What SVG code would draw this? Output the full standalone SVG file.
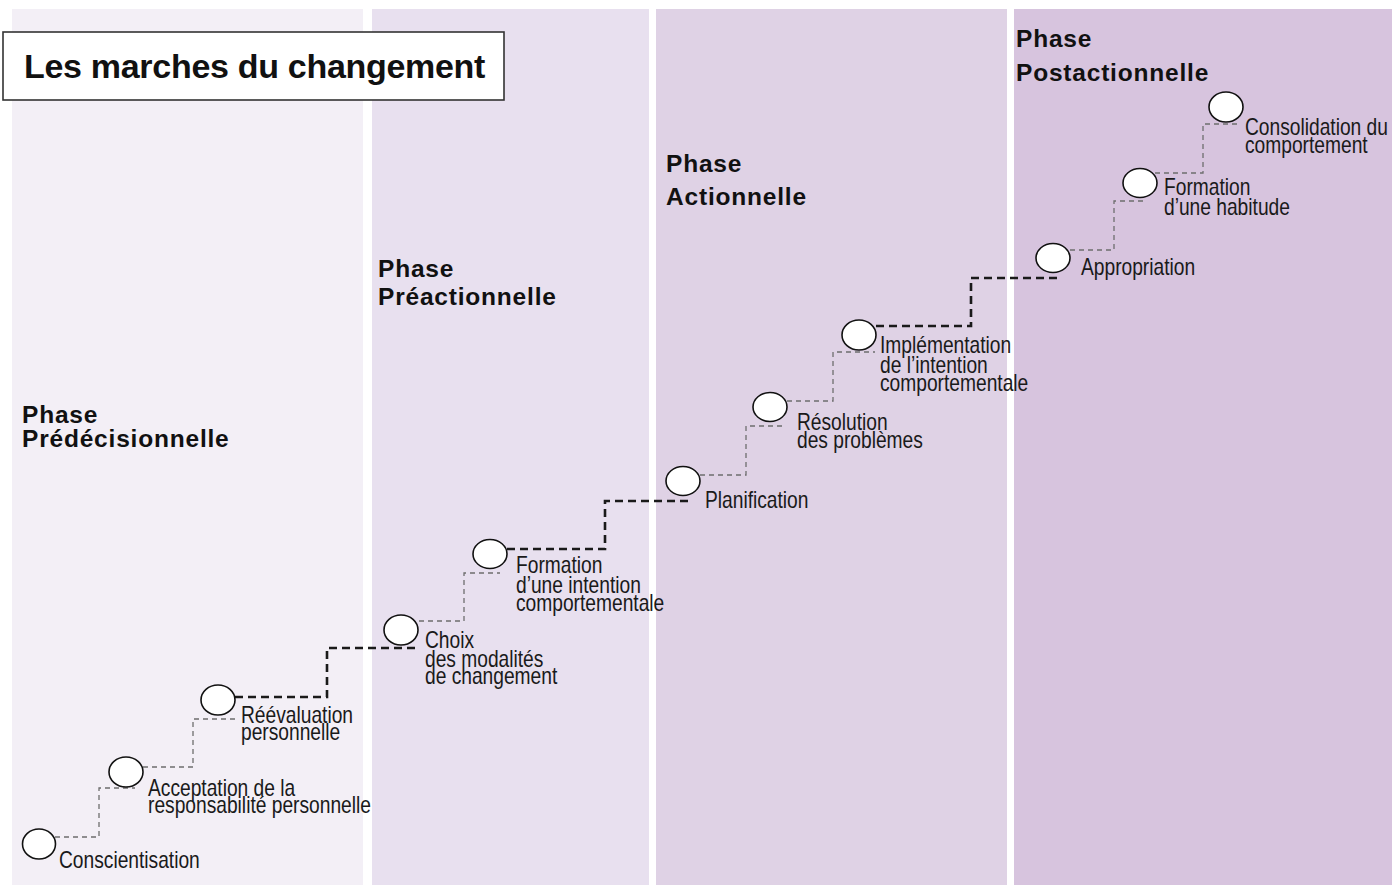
<svg xmlns="http://www.w3.org/2000/svg" width="1392" height="885" viewBox="0 0 1392 885">
<style>
.ph{font-family:"Liberation Sans",Arial,sans-serif;font-weight:bold;font-size:24.5px;letter-spacing:0.8px;fill:#111}
.lbl{font-family:"Liberation Sans",Arial,sans-serif;font-size:24px;fill:#1a1a1a}
.node ellipse{fill:#fff;stroke:#111;stroke-width:1.6}
.thin{fill:none;stroke:#6e6e6e;stroke-width:1.3;stroke-dasharray:5 4}
.thick{fill:none;stroke:#1a1a1a;stroke-width:2.6;stroke-dasharray:8 5}
</style>
<rect width="1392" height="885" fill="#ffffff"/>
<g id="panels">
<rect x="12" y="9" width="351" height="876" fill="#f3eff6"/>
<rect x="372" y="9" width="277" height="876" fill="#e8e0ef"/>
<rect x="656" y="9" width="351" height="876" fill="#dfd2e5"/>
<rect x="1014" y="9" width="378" height="876" fill="#d7c4de"/>
</g>
<g id="title">
<rect x="3" y="32" width="501" height="68" fill="#fff" stroke="#333" stroke-width="1.6"/>
<text x="24" y="78" font-family="Liberation Sans, Arial, sans-serif" font-weight="bold" font-size="34" letter-spacing="-0.3" fill="#111">Les marches du changement</text>
</g>
<g id="phases">
<text class="ph" x="22" y="423">Phase<tspan x="22" y="447">Prédécisionnelle</tspan></text>
<text class="ph" x="378" y="277">Phase<tspan x="378" y="305">Préactionnelle</tspan></text>
<text class="ph" x="666" y="172">Phase<tspan x="666" y="205">Actionnelle</tspan></text>
<text class="ph" x="1016" y="47">Phase<tspan x="1016" y="81">Postactionnelle</tspan></text>
</g>
<g id="connectors">
<path class="thin" d="M55,837 H99 V788 H135"/>
<path class="thin" d="M143,767 H193 V719 H237"/>
<path class="thick" d="M235,697 H327 V648 H415"/>
<path class="thin" d="M419,621 H464 V573 H500"/>
<path class="thick" d="M507,549 H605 V501 H692"/>
<path class="thin" d="M700,475 H746 V426 H782"/>
<path class="thin" d="M787,401 H833 V352 H875"/>
<path class="thick" d="M876,326 H971 V278 H1062"/>
<path class="thin" d="M1070,250 H1114 V201 H1147"/>
<path class="thin" d="M1155,173 H1203 V124 H1238"/>
</g>
<g id="n1" class="node"><ellipse cx="39" cy="844" rx="16.5" ry="15"/>
<text class="lbl" transform="translate(59,868) scale(0.8,1)">Conscientisation</text></g>
<g id="n2" class="node"><ellipse cx="126" cy="772" rx="17" ry="15"/>
<text class="lbl" transform="translate(148,796) scale(0.8,1)">Acceptation de la<tspan x="0" dy="16.5">responsabilité personnelle</tspan></text></g>
<g id="n3" class="node"><ellipse cx="218" cy="700" rx="17" ry="15"/>
<text class="lbl" transform="translate(241,723) scale(0.8,1)">Réévaluation<tspan x="0" dy="17">personnelle</tspan></text></g>
<g id="n4" class="node"><ellipse cx="401" cy="630" rx="17" ry="15"/>
<text class="lbl" transform="translate(425,648) scale(0.8,1)">Choix<tspan x="0" dy="18.5">des modalités</tspan><tspan x="0" dy="18">de changement</tspan></text></g>
<g id="n5" class="node"><ellipse cx="490" cy="554" rx="17" ry="14.5"/>
<text class="lbl" transform="translate(516,573) scale(0.8,1)">Formation<tspan x="0" dy="19.5">d’une intention</tspan><tspan x="0" dy="19">comportementale</tspan></text></g>
<g id="n6" class="node"><ellipse cx="683" cy="481" rx="17" ry="14.5"/>
<text class="lbl" transform="translate(705,508) scale(0.8,1)">Planification</text></g>
<g id="n7" class="node"><ellipse cx="770" cy="407" rx="17" ry="14.5"/>
<text class="lbl" transform="translate(797,430) scale(0.8,1)">Résolution<tspan x="0" dy="18">des problèmes</tspan></text></g>
<g id="n8" class="node"><ellipse cx="859" cy="335" rx="17" ry="15"/>
<text class="lbl" transform="translate(880,353) scale(0.8,1)">Implémentation<tspan x="0" dy="19.5">de l’intention</tspan><tspan x="0" dy="19">comportementale</tspan></text></g>
<g id="n9" class="node"><ellipse cx="1053" cy="258" rx="17" ry="14.5"/>
<text class="lbl" transform="translate(1081,275) scale(0.8,1)">Appropriation</text></g>
<g id="n10" class="node"><ellipse cx="1140" cy="183" rx="17" ry="14.5"/>
<text class="lbl" transform="translate(1164,195) scale(0.8,1)">Formation<tspan x="0" dy="19.5">d’une habitude</tspan></text></g>
<g id="n11" class="node"><ellipse cx="1226" cy="107" rx="17" ry="15"/>
<text class="lbl" transform="translate(1245,135) scale(0.8,1)">Consolidation du<tspan x="0" dy="17.5">comportement</tspan></text></g>
</svg>
